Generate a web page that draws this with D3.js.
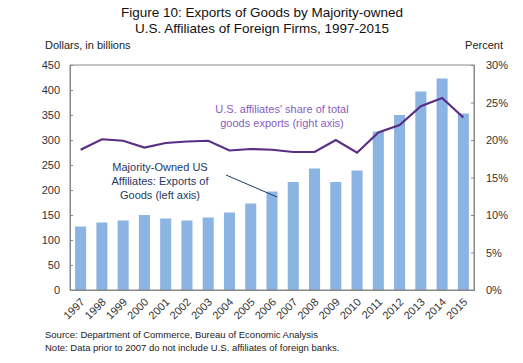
<!DOCTYPE html>
<html>
<head>
<meta charset="utf-8">
<script src="https://cdn.jsdelivr.net/npm/d3@7"></script>
<style>
  body { margin: 0; background: #fff; }
  text { font-family: Arial, "Liberation Sans", sans-serif; }
</style>
</head>
<body>
<script>
// values
var years = ["1997","1998","1999","2000","2001","2002","2003","2004","2005","2006",
  "2007","2008","2009","2010","2011","2012","2013","2014","2015"];
var exportsBn = [127, 135, 139, 150, 143, 139, 145, 155, 173, 197,
  216, 243, 216, 239, 317, 350, 397, 423, 353];
var sharePct = [18.7, 20.1, 19.9, 19.0, 19.6, 19.8, 19.9, 18.6, 18.8, 18.7,
  18.4, 18.4, 20.0, 18.3, 21.0, 22.0, 24.5, 25.6, 23.0];
var leftTicks = [0, 50, 100, 150, 200, 250, 300, 350, 400, 450];
var rightTicks = [0, 5, 10, 15, 20, 25, 30];

var width = 523, height = 363;
var plotL = 70, plotR = 474, plotT = 65, plotB = 290;

var svg = d3.select("body").append("svg")
  .attr("width", width)
  .attr("height", height);

var x = d3.scaleBand().domain(years).range([plotL, plotR]).paddingInner(0.48).paddingOuter(0.24);
var y = d3.scaleLinear().domain([0, 450]).range([plotB, plotT]);
var y2 = d3.scaleLinear().domain([0, 30]).range([plotB, plotT]);

// title
svg.append("text").attr("x", 262).attr("y", 17).attr("text-anchor", "middle")
  .attr("font-size", 13.5).attr("fill", "#111").text("Figure 10: Exports of Goods by Majority-owned");
svg.append("text").attr("x", 262).attr("y", 33).attr("text-anchor", "middle")
  .attr("font-size", 13.5).attr("fill", "#111").text("U.S. Affiliates of Foreign Firms, 1997-2015");

svg.append("text").attr("x", 45).attr("y", 49).attr("font-size", 11).attr("fill", "#222")
  .text("Dollars, in billions");
svg.append("text").attr("x", 503).attr("y", 49).attr("text-anchor", "end").attr("font-size", 11).attr("fill", "#222")
  .text("Percent");

// bars
svg.selectAll("rect.bar").data(exportsBn).enter().append("rect")
  .attr("class", "bar")
  .attr("x", function(d, i){ return x(years[i]); })
  .attr("y", function(d){ return y(d); })
  .attr("width", x.bandwidth())
  .attr("height", function(d){ return plotB - y(d); })
  .attr("fill", "#8cb4e2");

// frame
svg.append("rect").attr("x", plotL).attr("y", plotT).attr("width", plotR - plotL).attr("height", plotB - plotT)
  .attr("fill", "none").attr("stroke", "#888").attr("stroke-width", 1);

// axes
var yAxis = d3.axisLeft(y).tickValues(leftTicks).tickSize(-3).tickPadding(10);
var gl = svg.append("g").attr("transform", "translate(" + plotL + ",0)").call(yAxis);
var yAxis2 = d3.axisRight(y2).tickValues(rightTicks).tickSize(-3).tickPadding(12)
  .tickFormat(function(d){ return d + "%"; });
var gr = svg.append("g").attr("transform", "translate(" + plotR + ",0)").call(yAxis2);
[gl, gr].forEach(function(g){
  g.select(".domain").attr("stroke", "#888");
  g.selectAll(".tick line").attr("stroke", "#888");
  g.selectAll(".tick text").attr("font-size", 11).attr("fill", "#333")
    .style("font-family", "Arial, 'Liberation Sans', sans-serif");
});

var xAxis = d3.axisBottom(x).tickSize(0).tickPadding(0);
var gx = svg.append("g").attr("transform", "translate(0," + plotB + ")").call(xAxis);
gx.select(".domain").attr("stroke", "#888");
gx.selectAll(".tick text")
  .attr("font-size", 11).attr("fill", "#333")
  .attr("text-anchor", "end")
  .attr("transform", "translate(2,10) rotate(-45)")
  .attr("dy", "0.35em")
  .style("font-family", "Arial, 'Liberation Sans', sans-serif");

// share line
var line = d3.line()
  .x(function(d, i){ return x(years[i]) + x.bandwidth() / 2; })
  .y(function(d){ return y2(d); });
svg.append("path").datum(sharePct)
  .attr("d", line)
  .attr("fill", "none")
  .attr("stroke", "#5a2d86")
  .attr("stroke-width", 2.2);

// annotations
svg.append("text").attr("x", 282).attr("y", 113).attr("text-anchor", "middle")
  .attr("font-size", 11).attr("fill", "#8a5cc0").text("U.S. affiliates' share of total");
svg.append("text").attr("x", 282).attr("y", 127).attr("text-anchor", "middle")
  .attr("font-size", 11).attr("fill", "#8a5cc0").text("goods exports (right axis)");

var note = ["Majority-Owned US", "Affiliates: Exports of", "Goods (left axis)"];
svg.selectAll("text.note").data(note).enter().append("text")
  .attr("class", "note")
  .attr("x", 160).attr("y", function(d, i){ return 171 + i * 14; })
  .attr("text-anchor", "middle").attr("font-size", 11).attr("fill", "#1f3864")
  .text(function(d){ return d; });
svg.append("line").attr("x1", 226).attr("y1", 175).attr("x2", 277).attr("y2", 197)
  .attr("stroke", "#1f3864").attr("stroke-width", 1);

// source
svg.append("text").attr("x", 45).attr("y", 338).attr("font-size", 9.5).attr("fill", "#222")
  .text("Source: Department of Commerce, Bureau of Economic Analysis");
svg.append("text").attr("x", 45).attr("y", 351).attr("font-size", 9.5).attr("fill", "#222")
  .text("Note: Data prior to 2007 do not include U.S. affiliates of foreign banks.");
</script>
</body>
</html>
